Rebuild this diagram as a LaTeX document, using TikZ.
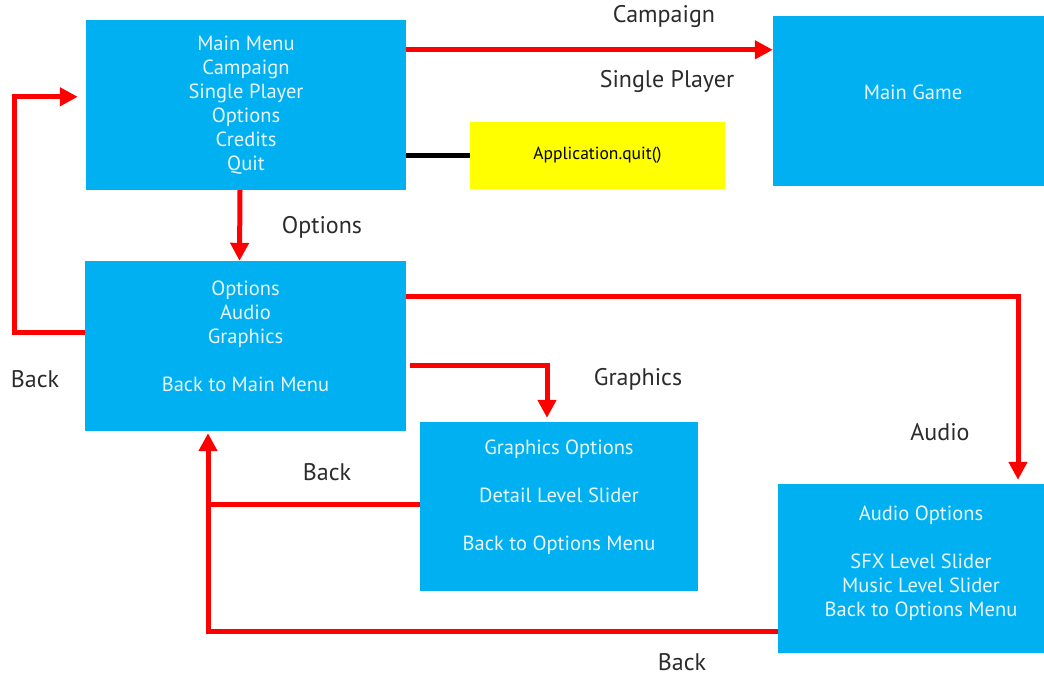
\documentclass[tikz,border=0pt]{standalone}
\usepackage{fontspec}
\setmainfont{PT Sans}
\usetikzlibrary{arrows.meta}
\definecolor{boxblue}{HTML}{00B0F0}
\definecolor{linkred}{HTML}{FF0000}
\definecolor{quityellow}{HTML}{FFFF00}
\definecolor{boxtext}{HTML}{EAF6FD}
\definecolor{labelgray}{HTML}{2B2B2B}
\begin{document}
\begin{tikzpicture}[x=1pt,y=-1pt,
  screen/.style={rectangle, fill=boxblue, draw=none, inner sep=0pt},
  screentext/.style={text=boxtext, align=center, inner sep=0pt,
    font=\fontsize{20.5}{24}\selectfont},
  quitbox/.style={rectangle, fill=quityellow, draw=none, inner sep=0pt,
    font=\fontsize{17.5}{20}\selectfont},
  flow/.style={draw=linkred, line width=5pt, line join=miter,
    -{Triangle[length=18pt,width=18pt]}},
  flowline/.style={draw=linkred, line width=5pt, line join=miter},
  quitlink/.style={draw=black, line width=5pt},
  lbl/.style={text=labelgray, inner sep=0pt, font=\fontsize{24}{26}\selectfont}
]
\useasboundingbox (0,0) rectangle (1044,676);
\clip (0,0) rectangle (1044,676);

% screens
\node[screen, minimum width=320pt, minimum height=170pt,
  label={[screentext, anchor=north, yshift=-16pt]north:{Main Menu\\Campaign\\Single Player\\Options\\Credits\\Quit}}]
  (mm) at (246,105) {};
\node[screen, minimum width=280pt, minimum height=170pt,
  label={[screentext, anchor=center, yshift=9pt]center:{Main Game}}]
  (game) at (913,101) {};
\node[quitbox, minimum width=255pt, minimum height=67pt]
  (quit) at (597.5,155.5) {\raisebox{-2pt}{Application.quit()}};
\node[screen, minimum width=321pt, minimum height=170pt,
  label={[screentext, anchor=north, yshift=-20pt]north:{Options\\Audio\\Graphics\\[24pt]Back to Main Menu}}]
  (opt) at (245.5,346) {};
\node[screen, minimum width=278pt, minimum height=169pt,
  label={[screentext, anchor=north, yshift=-18pt]north:{Graphics Options\\[24pt]Detail Level Slider\\[24pt]Back to Options Menu}}]
  (gfx) at (559,506.5) {};
\node[screen, minimum width=286pt, minimum height=169pt,
  label={[screentext, anchor=north, yshift=-22pt]north:{Audio Options\\[24pt]SFX Level Slider\\Music Level Slider\\Back to Options Menu}}]
  (aud) at (921,568.5) {};

% shared column of the return path into the options screen
\coordinate (col) at ([xshift=-37.5pt]opt.south);

% connectors
\draw[flow] ([yshift=-30pt]mm.north east) -- ([yshift=-34pt]game.north west);
\draw[quitlink] (mm.east |- quit.west) -- (quit.west);
\draw[flow] ([xshift=-6pt]mm.south) -- ([xshift=-6pt]opt.north);
\draw[flow, shorten >=8pt] ([yshift=-72pt]opt.north west) -- ++(-70,0)
  |- ([yshift=-77pt]mm.north west);
\draw[flow, shorten >=4pt] ([yshift=-36pt]opt.north east)
  -| ([xshift=97pt]aud.north);
\draw[flow, shorten >=4pt] ([xshift=4pt,yshift=-105pt]opt.north east)
  -| ([xshift=-12pt]gfx.north);
\draw[flowline] ([yshift=-83pt]gfx.north west) -- ([yshift=-83pt]gfx.north west -| col);
\draw[flow, shorten >=2pt] ([yshift=-148pt]aud.north west) -| (col);

% transition labels
\node[lbl] (lcamp) at (664,17) {Campaign};
\node[lbl] (lsingle) at (667,82) {Single Player};
\node[lbl] (lopt) at (322,227) {Options};
\node[lbl] (lback1) at (35,379) {Back};
\node[lbl] (lgfx) at (638,379) {Graphics};
\node[lbl] (laudio) at (940,432) {Audio};
\node[lbl] (lback2) at (327,472) {Back};
\node[lbl] (lback3) at (682,662) {Back};
\end{tikzpicture}
\end{document}
